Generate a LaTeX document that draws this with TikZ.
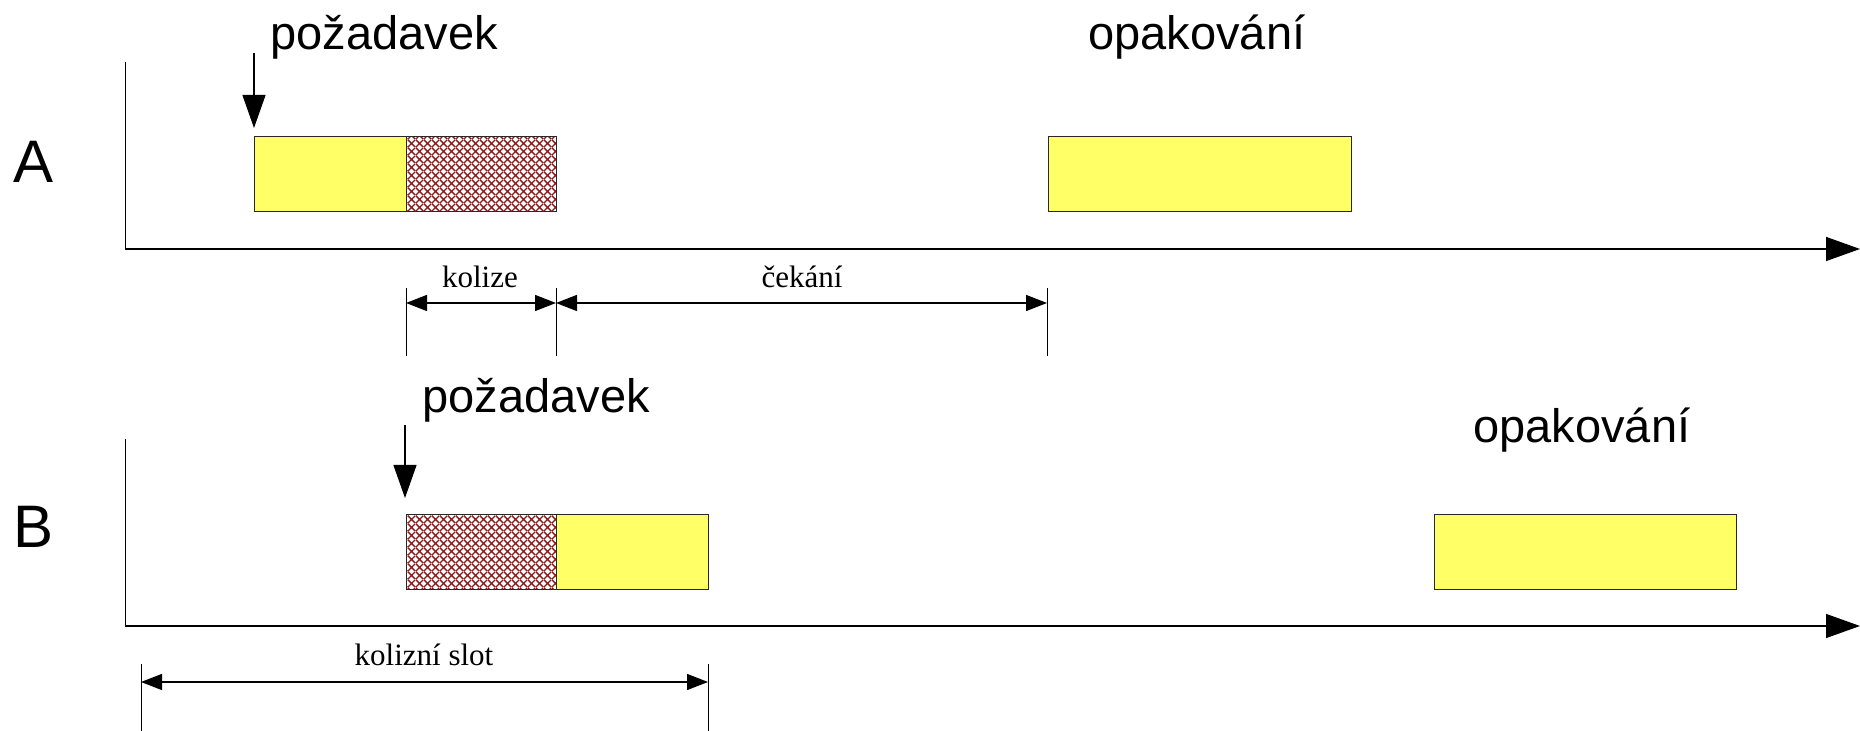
\documentclass[tikz,border=0pt]{standalone}
\usepackage{fontspec}
\setmainfont{Liberation Serif}
\setsansfont{Liberation Sans}
\usetikzlibrary{arrows.meta,patterns}
\definecolor{boxyellow}{RGB}{255,255,102}
\definecolor{hatchred}{RGB}{140,25,25}
\definecolor{boxedge}{RGB}{40,40,40}
\pgfdeclarepatternformonly{xhatch}{\pgfpointorigin}{\pgfpoint{4pt}{4pt}}{\pgfpoint{4pt}{4pt}}{%
  \pgfsetlinewidth{0.75pt}%
  \pgfpathmoveto{\pgfpoint{-0.1pt}{-0.1pt}}\pgfpathlineto{\pgfpoint{4.1pt}{4.1pt}}%
  \pgfpathmoveto{\pgfpoint{-0.1pt}{4.1pt}}\pgfpathlineto{\pgfpoint{4.1pt}{-0.1pt}}%
  \pgfusepath{stroke}}
\tikzset{
  ybox/.style={draw=boxedge, line width=0.5pt, fill=boxyellow, inner sep=0pt, outer sep=0pt, anchor=north west, minimum height=37.5pt},
  hbox/.style={draw=boxedge, line width=0.5pt, pattern=xhatch, pattern color=hatchred, inner sep=0pt, outer sep=0pt, anchor=north west, minimum height=37.5pt},
  axisline/.style={line width=0.7pt, -{Triangle[length=17pt,width=12pt]}},
  axisstem/.style={line width=0.5pt},
  reqarrow/.style={line width=0.6pt, -{Triangle[length=16.5pt,width=11.5pt]}},
  extline/.style={line width=0.5pt},
  dimline/.style={line width=0.7pt, {Triangle[length=10.5pt,width=8pt]}-{Triangle[length=10.5pt,width=8pt]}},
  biglabel/.style={font=\sffamily\fontsize{23.5pt}{26pt}\selectfont, inner sep=0pt, anchor=base west},
  rowlabel/.style={font=\sffamily\fontsize{30pt}{33pt}\selectfont, inner sep=0pt, anchor=base west},
  dimlabel/.style={font=\rmfamily\fontsize{15.5pt}{18pt}\selectfont, inner sep=0pt, anchor=base}
}
\begin{document}
\begin{tikzpicture}[x=0.5pt,y=-0.5pt]
\useasboundingbox (0,0) rectangle (1860,731);

% ---- row A ----
\node[rowlabel] (labA) at (13,183) {A};
\coordinate (Atop) at (125,62);
\coordinate (Aorig) at (125,249);
\coordinate (Aend) at (1860,249);
\draw[axisstem] (Atop) -- (Aorig);
\draw[axisline] (Aorig) -- (Aend);

\node[ybox, minimum width=76pt] (a1) at (254,137) {};
\node[hbox, minimum width=75pt] (a2) at (406,137) {};
\node[ybox, minimum width=151.5pt] (a3) at (1048,137) {};

\node[biglabel] (reqA) at (270,50) {požadavek};
\node[biglabel] (retA) at (1088,50) {opakování};
\coordinate (reqAs) at (254,53);
\coordinate (reqAe) at (254,128);
\draw[reqarrow] (reqAs) -- (reqAe);

% dimensions A
\coordinate (e1t) at (406,288); \coordinate (e1b) at (406,356);
\coordinate (e2t) at (556,288); \coordinate (e2b) at (556,356);
\coordinate (e3t) at (1047,288); \coordinate (e3b) at (1047,356);
\draw[extline] (e1t) -- (e1b);
\draw[extline] (e2t) -- (e2b);
\draw[extline] (e3t) -- (e3b);
\coordinate (d1) at (406,303);
\coordinate (d2) at (556,303);
\coordinate (d3) at (1047,303);
\draw[dimline] (d1) -- (d2);
\draw[dimline] (d2) -- (d3);
\node[dimlabel] (kol) at (480,288) {kolize};
\node[dimlabel] (cek) at (802,288) {čekání};

% ---- row B ----
\node[rowlabel] (labB) at (13,548) {B};
\coordinate (Btop) at (125,439);
\coordinate (Borig) at (125,626);
\coordinate (Bend) at (1860,626);
\draw[axisstem] (Btop) -- (Borig);
\draw[axisline] (Borig) -- (Bend);

\node[hbox, minimum width=75pt] (b1) at (406,515) {};
\node[ybox, minimum width=76pt] (b2) at (556,515) {};
\node[ybox, minimum width=151pt] (b3) at (1434,515) {};

\node[biglabel] (reqB) at (422,413) {požadavek};
\node[biglabel] (retB) at (1473,443) {opakování};
\coordinate (reqBs) at (405,425);
\coordinate (reqBe) at (405,498);
\draw[reqarrow] (reqBs) -- (reqBe);

% dimension B
\coordinate (f1t) at (141,664); \coordinate (f1b) at (141,731);
\coordinate (f2t) at (708,664); \coordinate (f2b) at (708,731);
\draw[extline] (f1t) -- (f1b);
\draw[extline] (f2t) -- (f2b);
\coordinate (g1) at (141,682);
\coordinate (g2) at (708,682);
\draw[dimline] (g1) -- (g2);
\node[dimlabel] (slot) at (424,666) {kolizní slot};
\end{tikzpicture}
\end{document}
